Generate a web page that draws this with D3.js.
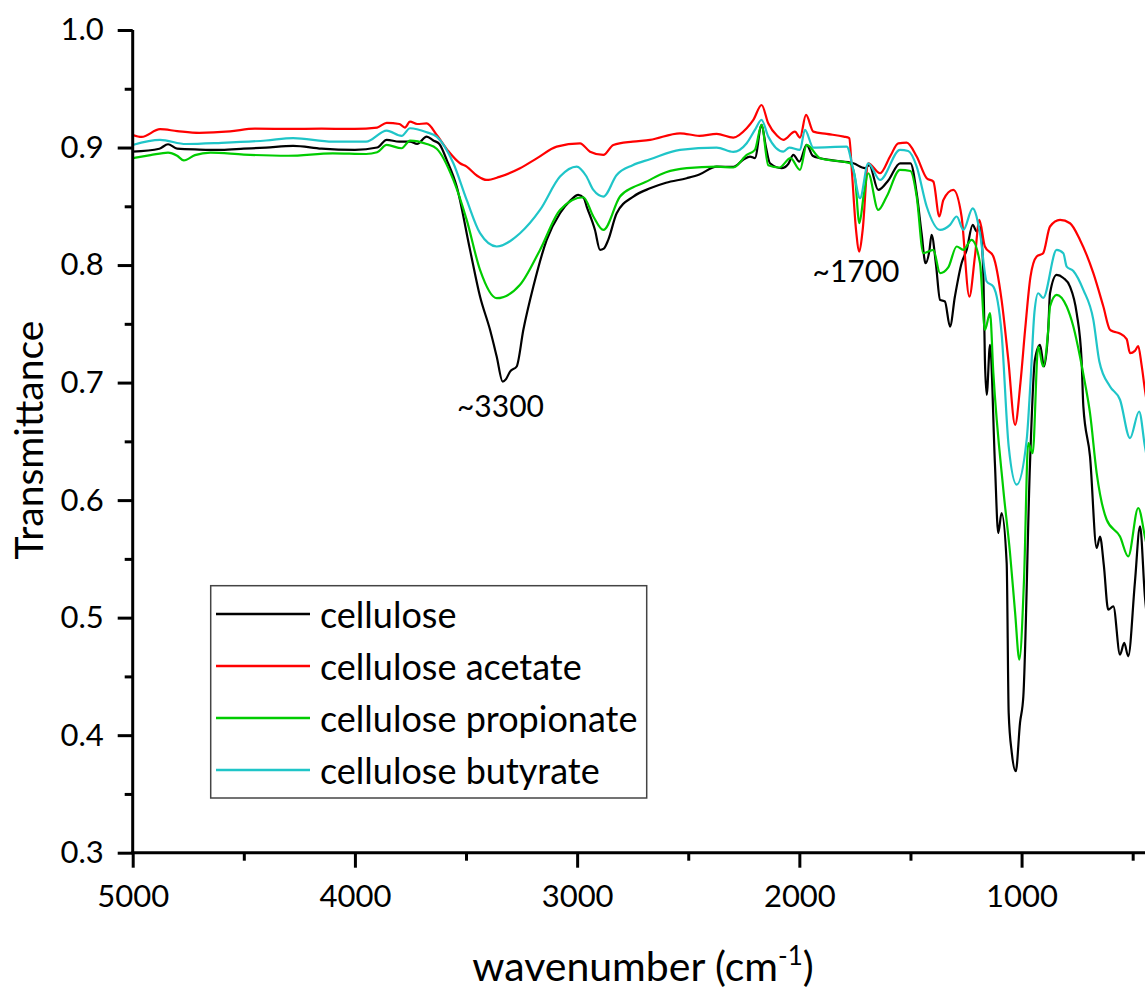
<!DOCTYPE html>
<html>
<head>
<meta charset="utf-8">
<script src="https://cdn.jsdelivr.net/npm/d3@7"></script>
<style>
  body { margin: 0; background: #fff; }
  text { font-family: Lato, "Open Sans", sans-serif; fill: #000; }
</style>
</head>
<body>
<svg id="chart" width="1145" height="990"></svg>
<script>
// FTIR spectra (wavenumber in cm-1, transmittance)
var celluloseWn = [5000, 4880, 4841, 4800, 4700, 4600, 4500, 4400, 4278, 4150, 4000, 3900, 3857, 3800, 3752, 3720, 3677, 3647, 3620,
  3587, 3542, 3482, 3437, 3392, 3362, 3335, 3320, 3302, 3272, 3242, 3197, 3137, 3077, 3030, 2995, 2970, 2957, 2920, 2897, 2880, 2860,
  2822, 2747, 2672, 2600, 2507, 2450, 2372, 2297, 2250, 2222, 2200, 2170, 2150, 2132, 2080, 2050, 2027, 2000, 1967, 1940, 1907, 1850,
  1757, 1705, 1685, 1645, 1600, 1547, 1500, 1472, 1450, 1432, 1415, 1405, 1385, 1367, 1345, 1322, 1300, 1270, 1247, 1220, 1202, 1187,
  1172, 1165, 1157, 1142, 1120, 1105, 1090, 1067, 1058, 1044, 1026, 1007, 992, 962, 940, 917, 899, 880, 872, 842, 812, 782, 752, 730,
  722, 692, 662, 647, 630, 610, 587, 557, 538, 520, 490, 467, 445, 430];
var celluloseT = [0.8965, 0.899, 0.9028, 0.899, 0.8983, 0.898, 0.899, 0.900, 0.9014, 0.899, 0.898, 0.900, 0.9065, 0.905, 0.905, 0.903,
  0.9093, 0.906, 0.903, 0.8895, 0.8668, 0.8129, 0.7732, 0.7449, 0.7222, 0.7009, 0.703, 0.7094, 0.7137, 0.7449, 0.7817, 0.8214, 0.8441,
  0.855, 0.8597, 0.857, 0.8498, 0.830, 0.8129, 0.814, 0.8214, 0.8441, 0.8583, 0.8653, 0.870, 0.8739, 0.877, 0.8838, 0.8835, 0.890,
  0.8923, 0.891, 0.9192, 0.900, 0.8866, 0.8824, 0.886, 0.8937, 0.888, 0.9022, 0.893, 0.8909, 0.889, 0.8866, 0.8824, 0.885, 0.8639,
  0.872, 0.8866, 0.8866, 0.8611, 0.8271, 0.8016, 0.812, 0.8257, 0.8002, 0.7704, 0.769, 0.7477, 0.7732, 0.8016, 0.8129, 0.8342, 0.8285,
  0.8328, 0.7931, 0.7194, 0.6896, 0.7321, 0.6315, 0.572, 0.589, 0.5465, 0.419, 0.385, 0.3693, 0.4105, 0.4331, 0.6315, 0.7194, 0.7321,
  0.7137, 0.745, 0.776, 0.7917, 0.789, 0.7817, 0.7591, 0.7194, 0.6797, 0.6372, 0.5593, 0.569, 0.545, 0.5068, 0.5096, 0.4685, 0.4785,
  0.4671, 0.53, 0.5776, 0.5181, 0.49];

var acetateWn = [5000, 4960, 4877, 4800, 4700, 4562, 4450, 4300, 4150, 4000, 3900, 3857, 3800, 3775, 3752, 3720, 3677, 3632, 3580,
  3527, 3497, 3450, 3407, 3350, 3257, 3180, 3092, 2987, 2942, 2882, 2837, 2750, 2672, 2537, 2450, 2372, 2297, 2237, 2207, 2170, 2140,
  2100, 2072, 2020, 1997, 1970, 1937, 1877, 1800, 1775, 1765, 1745, 1730, 1715, 1690, 1637, 1590, 1555, 1517, 1472, 1427, 1397, 1370,
  1352, 1307, 1270, 1235, 1210, 1190, 1165, 1127, 1090, 1060, 1029, 1005, 984, 960, 932, 903, 872, 827, 782, 737, 677, 632, 602, 587,
  560, 527, 512, 490, 475, 460, 445, 430];
var acetateT = [0.9107, 0.909, 0.9156, 0.914, 0.9125, 0.9137, 0.916, 0.9158, 0.916, 0.9158, 0.917, 0.921, 0.920, 0.917, 0.922, 0.920,
  0.9205, 0.9107, 0.897, 0.8866, 0.8838, 0.876, 0.8724, 0.875, 0.8824, 0.891, 0.9008, 0.9036, 0.8965, 0.8937, 0.9022, 0.905, 0.9065,
  0.9121, 0.910, 0.9116, 0.9085, 0.9164, 0.9235, 0.9362, 0.9206, 0.910, 0.9065, 0.9135, 0.9085, 0.9277, 0.9135, 0.9116, 0.9093, 0.908,
  0.8838, 0.830, 0.8115, 0.830, 0.8866, 0.8781, 0.893, 0.9036, 0.9042, 0.8923, 0.8739, 0.871, 0.8413, 0.8554, 0.8639, 0.8413, 0.7732,
  0.8072, 0.8384, 0.8158, 0.8073, 0.7704, 0.720, 0.6641, 0.700, 0.745, 0.790, 0.8073, 0.8101, 0.8328, 0.8384, 0.8356, 0.8214, 0.7931,
  0.7647, 0.7449, 0.7435, 0.742, 0.737, 0.725, 0.727, 0.731, 0.715, 0.694, 0.675];

var propionateWn = [5000, 4920, 4841, 4800, 4770, 4720, 4650, 4500, 4300, 4100, 3950, 3900, 3857, 3790, 3752, 3677, 3632, 3557, 3497,
  3437, 3362, 3257, 3167, 3077, 2972, 2927, 2882, 2807, 2750, 2700, 2600, 2507, 2372, 2297, 2237, 2200, 2170, 2140, 2090, 2040, 1997,
  1967, 1907, 1772, 1750, 1730, 1710, 1690, 1645, 1607, 1547, 1500, 1472, 1442, 1397, 1367, 1330, 1292, 1262, 1225, 1187, 1165, 1142,
  1127, 1082, 1052, 1029, 1010, 989, 970, 950, 925, 903, 880, 872, 842, 797, 767, 737, 715, 692, 662, 617, 557, 520, 475, 445, 430];
var propionateT = [0.891, 0.8935, 0.8957, 0.893, 0.889, 0.8935, 0.8957, 0.894, 0.893, 0.895, 0.8945, 0.896, 0.9022, 0.8994, 0.9059,
  0.903, 0.899, 0.8724, 0.8384, 0.7959, 0.7718, 0.7832, 0.8129, 0.8469, 0.8577, 0.8413, 0.8299, 0.8583, 0.866, 0.870, 0.879, 0.8824,
  0.8838, 0.883, 0.8937, 0.898, 0.9192, 0.885, 0.883, 0.891, 0.881, 0.9022, 0.8909, 0.8866, 0.875, 0.8356, 0.860, 0.8781, 0.8469,
  0.8583, 0.881, 0.880, 0.8583, 0.8101, 0.8129, 0.7931, 0.798, 0.8158, 0.8129, 0.8214, 0.8016, 0.7449, 0.7591, 0.7081, 0.6088, 0.555,
  0.504, 0.4643, 0.5323, 0.6485, 0.640, 0.7307, 0.7137, 0.745, 0.7647, 0.7747, 0.7647, 0.7477, 0.722, 0.700, 0.674, 0.623, 0.5833,
  0.569, 0.5521, 0.5933, 0.569, 0.555];

var butyrateWn = [5000, 4877, 4760, 4600, 4400, 4278, 4100, 3950, 3857, 3790, 3752, 3677, 3632, 3557, 3497, 3437, 3362, 3257, 3167,
  3077, 3002, 2960, 2927, 2882, 2822, 2750, 2672, 2537, 2372, 2297, 2237, 2200, 2170, 2140, 2072, 2045, 1997, 1975, 1937, 1787, 1757,
  1727, 1690, 1637, 1547, 1510, 1472, 1427, 1367, 1322, 1292, 1262, 1220, 1187, 1157, 1127, 1090, 1058, 1022, 977, 960, 942, 925, 903,
  842, 812, 797, 767, 722, 677, 650, 602, 557, 512, 471, 445, 430];
var butyrateT = [0.9022, 0.9065, 0.903, 0.904, 0.906, 0.908, 0.905, 0.905, 0.9144, 0.9099, 0.9164, 0.913, 0.9093, 0.8866, 0.8554,
  0.8271, 0.8158, 0.8271, 0.8469, 0.8753, 0.8838, 0.876, 0.8639, 0.8583, 0.8767, 0.885, 0.890, 0.898, 0.900, 0.8963, 0.9036, 0.915,
  0.9235, 0.9093, 0.8965, 0.900, 0.898, 0.915, 0.900, 0.9008, 0.881, 0.8569, 0.8866, 0.8724, 0.898, 0.897, 0.8838, 0.8498, 0.8299,
  0.8342, 0.8413, 0.8299, 0.8483, 0.8271, 0.786, 0.7817, 0.7421, 0.6457, 0.6131, 0.6514, 0.700, 0.760, 0.776, 0.772, 0.8129, 0.810,
  0.7987, 0.795, 0.7789, 0.7534, 0.718, 0.6967, 0.6854, 0.6527, 0.6754, 0.6457, 0.630];

var seriesNames = ["cellulose", "cellulose acetate", "cellulose propionate", "cellulose butyrate"];
var seriesColors = ["#000000", "#ff0000", "#00cc00", "#1fc5c8"];
var seriesWn = [celluloseWn, acetateWn, propionateWn, butyrateWn];
var seriesT = [celluloseT, acetateT, propionateT, butyrateT];

var xTicks = [5000, 4000, 3000, 2000, 1000];
var yTicks = [0.3, 0.4, 0.5, 0.6, 0.7, 0.8, 0.9, 1.0];

var annotLabels = ["~3300", "~1700"];
var annotWn = [3345, 1745];
var annotT = [0.671, 0.7857];

var svg = d3.select("#chart");

var x = d3.scaleLinear().domain([5000, 400]).range([132.7, 1154.9]);
var y = d3.scaleLinear().domain([0.3, 1.0]).range([852.7, 30]);

// curves
var line = d3.line()
  .x(function (d) { return x(d[0]); })
  .y(function (d) { return y(d[1]); })
  .curve(d3.curveMonotoneX);

seriesNames.forEach(function (name, i) {
  var pts = d3.zip(seriesWn[i], seriesT[i]);
  svg.append("path")
    .datum(pts)
    .attr("d", line)
    .attr("fill", "none")
    .attr("stroke", seriesColors[i])
    .attr("stroke-width", 2.2)
    .attr("stroke-linejoin", "round");
});

// minor ticks first, then major axes on top
svg.append("g")
  .attr("transform", "translate(0,852.7)")
  .call(d3.axisBottom(x).tickValues(d3.range(4500, 400, -1000)).tickSize(8).tickFormat(""))
  .call(function (g) { g.select(".domain").remove(); })
  .selectAll("line").attr("stroke-width", 3);

svg.append("g")
  .attr("transform", "translate(132.7,0)")
  .call(d3.axisLeft(y).tickValues([0.35, 0.45, 0.55, 0.65, 0.75, 0.85, 0.95]).tickSize(8).tickFormat(""))
  .call(function (g) { g.select(".domain").remove(); })
  .selectAll("line").attr("stroke-width", 3);

var xAxis = svg.append("g")
  .attr("transform", "translate(0,852.7)")
  .call(d3.axisBottom(x).tickValues(xTicks).tickSize(15).tickSizeOuter(0).tickPadding(17).tickFormat(d3.format("d")));

var yAxis = svg.append("g")
  .attr("transform", "translate(132.7,0)")
  .call(d3.axisLeft(y).tickValues(yTicks).tickSize(15).tickSizeOuter(0).tickPadding(14).tickFormat(d3.format(".1f")));

[xAxis, yAxis].forEach(function (g) {
  g.select(".domain").attr("stroke-width", 3);
  g.selectAll(".tick line").attr("stroke-width", 3);
  g.selectAll("text").attr("font-size", 31).attr("font-family", "Lato, sans-serif");
});
yAxis.select(".domain").attr("d", "M0,853.5V30");
xAxis.select(".domain").attr("d", "M131.2,0H1160");

// axis titles
svg.append("text")
  .attr("transform", "translate(43,440) rotate(-90)")
  .attr("text-anchor", "middle")
  .attr("font-size", 39)
  .text("Transmittance");

var xt = svg.append("text")
  .attr("x", 643)
  .attr("y", 981)
  .attr("text-anchor", "middle")
  .attr("font-size", 41);
xt.append("tspan").text("wavenumber (cm");
xt.append("tspan").attr("font-size", 26).attr("dy", -16).text("-1");
xt.append("tspan").attr("dy", 16).text(")");

// peak labels
annotLabels.forEach(function (lab, i) {
  svg.append("text")
    .attr("x", x(annotWn[i]))
    .attr("y", y(annotT[i]))
    .attr("text-anchor", "middle")
    .attr("font-size", 30)
    .text(lab);
});

// legend
var legend = svg.append("g").attr("transform", "translate(210.7,585.7)");
legend.append("rect")
  .attr("width", 436)
  .attr("height", 212.3)
  .attr("fill", "#fff")
  .attr("stroke", "#444")
  .attr("stroke-width", 1.5);

seriesNames.forEach(function (name, i) {
  var row = legend.append("g").attr("transform", "translate(0," + (28.3 + i * 52) + ")");
  row.append("line")
    .attr("x1", 5.3).attr("x2", 99.3)
    .attr("stroke", seriesColors[i])
    .attr("stroke-width", 2.5);
  row.append("text")
    .attr("x", 109.3)
    .attr("y", 13.5)
    .attr("font-size", 36)
    .text(name);
});
</script>
</body>
</html>
